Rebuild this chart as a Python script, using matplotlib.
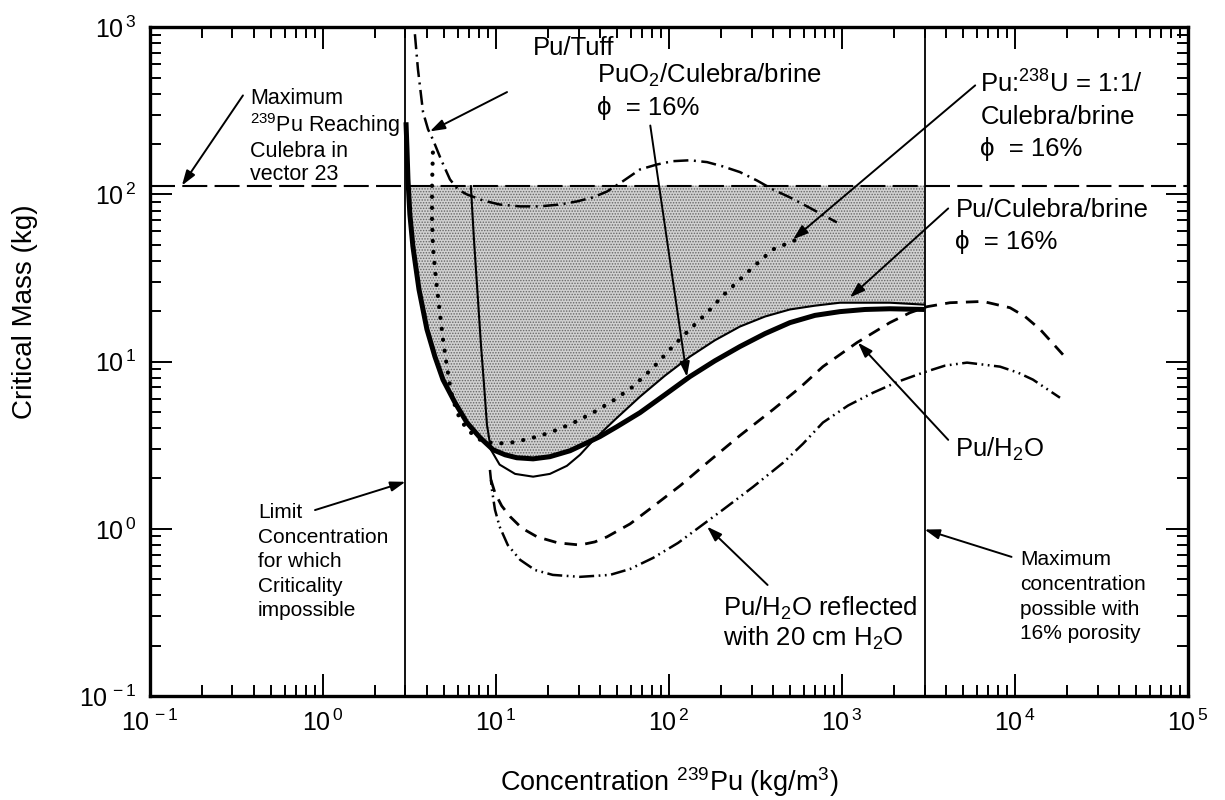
import numpy as np
import matplotlib
matplotlib.use("Agg")
from matplotlib import pyplot as plt
from matplotlib.ticker import FixedLocator, FuncFormatter, NullFormatter

plt.rcParams['font.family'] = ['Liberation Sans', 'DejaVu Sans']
plt.rcParams['mathtext.fontset'] = 'custom'
plt.rcParams['mathtext.rm'] = 'Liberation Sans'
plt.rcParams['mathtext.it'] = 'Liberation Sans:italic'
plt.rcParams['mathtext.bf'] = 'Liberation Sans:bold'
plt.rcParams['mathtext.default'] = 'regular'
plt.rcParams['hatch.linewidth'] = 0.7

# concentration limits (kg/m3) and max Pu reaching Culebra (kg)
limitConc = 3.0
maxConc = 3000.0
maxPuMass = 113.0

# decades shown on the axes
xDecades = [-1, 0, 1, 2, 3, 4, 5]
yDecades = [-1, 0, 1, 2, 3]

# Pu/Culebra/brine  (thick solid)
brineX = [3.02, 3.06, 3.10, 3.18, 3.31, 3.59, 3.99, 4.44, 4.94, 5.80, 6.79, 8.09, 9.62,
          11.3, 13.2, 16.4, 20.5, 26.8, 33.6, 39.9, 50.0, 68.0, 94.8, 132, 184, 257,
          359, 500, 698, 973, 1358, 1892, 3000]
brineY = [270, 186, 123, 75.9, 48.9, 27.0, 15.6, 10.7, 7.80, 5.68, 4.32, 3.51, 2.97,
          2.77, 2.66, 2.62, 2.70, 2.93, 3.27, 3.56, 4.08, 4.95, 6.34, 8.13, 10.1, 12.3,
          14.7, 17.1, 18.9, 19.9, 20.5, 20.7, 20.5]

# PuO2/Culebra/brine  (thin solid)
puo2X = [7.16, 7.46, 7.87, 8.19, 8.53, 8.87, 9.35, 10.5, 12.9, 16.4, 20.5, 25.7, 30.6,
         36.4, 48.8, 68, 94.8, 132, 184, 257, 359, 500, 698, 973, 1892, 3000]
puo2Y = [112, 53.8, 23.5, 12.6, 7.28, 4.20, 2.97, 2.42, 2.13, 2.05, 2.13, 2.38, 2.77,
         3.37, 4.50, 6.17, 8.24, 10.7, 13.4, 16.2, 18.6, 20.5, 21.6, 22.5, 22.5, 21.9]

# Pu:238U = 1:1 / Culebra/brine  (dotted)
puuX = [4.32, 4.27, 4.27, 4.32, 4.50, 4.74, 4.94, 5.21, 5.50, 5.95, 6.79, 8.09, 9.87,
        12.1, 15.7, 20.5, 27.5, 36.4, 47.4, 61.9, 81, 105, 132, 166, 205, 257, 323, 399, 550]
puuY = [178, 112, 70.8, 48.9, 31.0, 19.6, 13.6, 9.33, 6.61, 4.95, 3.92, 3.41, 3.23,
        3.27, 3.46, 3.76, 4.26, 4.95, 5.83, 7.08, 9.20, 12.3, 15.6, 19.6, 24.8, 31.0,
        38.6, 46.9, 53.8]

# Pu/Tuff  (dash-dot)
tuffX = [3.40, 3.54, 3.79, 4.05, 4.32, 4.81, 5.42, 6.03, 6.79, 8.41, 10.5, 13.8, 17.9,
         23.4, 29.4, 36.4, 43.8, 54.2, 68, 85.3, 105, 132, 166, 205, 257, 323, 399, 500,
         628, 766, 935]
tuffY = [908, 561, 310, 245, 213, 162, 123, 107, 100, 92, 87, 84.8, 84.8, 87, 90.8, 96,
         104, 120, 141, 151, 158, 160, 156, 147, 136, 121, 107, 96, 84.8, 75.9, 68]

# Pu/H2O  (dashed)
waterX = [9.35, 9.87, 10.8, 12.1, 14.1, 17.3, 22.8, 30.6, 37.3, 43.8, 59.6, 81, 116, 166,
          257, 399, 571, 776, 1222, 1890, 2470, 3100, 4210, 6530, 9360, 11430, 13960, 18940]
waterY = [1.96, 1.64, 1.37, 1.18, 1.01, 0.895, 0.824, 0.80, 0.835, 0.895, 1.07, 1.36,
          1.81, 2.48, 3.61, 5.16, 6.98, 9.33, 13.0, 17.1, 19.6, 21.3, 22.5, 22.9, 21.0,
          18.6, 15.6, 11.0]

# Pu/H2O reflected with 20 cm H2O  (dash-dot-dot)
reflX = [9.23, 9.48, 9.87, 10.5, 11.7, 13.8, 16.8, 21.3, 30.6, 45.6, 59.6, 81, 113, 157,
         205, 306, 456, 596, 776, 1084, 1510, 2110, 2940, 3940, 5280, 8190, 10400, 12700,
         18200]
reflY = [2.25, 1.71, 1.30, 1.03, 0.80, 0.652, 0.567, 0.53, 0.516, 0.53, 0.575, 0.67,
         0.824, 1.06, 1.30, 1.78, 2.48, 3.23, 4.32, 5.46, 6.51, 7.59, 8.59, 9.46, 9.86,
         9.33, 8.59, 7.80, 6.08]


def decade_label(v, pos):
    return r'10$^{\,%d}$' % int(round(np.log10(v)))


def minor_ticks(decades):
    return [m * 10.0 ** d for d in decades[:-1] for m in range(2, 10)]


fig = plt.figure(figsize=(12.25, 8), dpi=100)
ax = fig.add_axes([0.1224, 0.13, 0.8474, 0.836])
ax.set_xscale('log')
ax.set_yscale('log')
ax.set_xlim(1e-1, 1e5)
ax.set_ylim(1e-1, 1e3)

# shaded region: above the lower solid curves, below max mass
bX = np.array(brineX[:19] + puo2X[13:])
bY = np.array(brineY[:19] + puo2Y[13:])
ax.fill_between(bX, bY, maxPuMass, where=bY <= maxPuMass, interpolate=True,
                facecolor='0.82', edgecolor='0.4', hatch='......', linewidth=0, zorder=1)

ax.axhline(maxPuMass, color='k', lw=1.5, dashes=(12, 3.5), zorder=2)
ax.axvline(limitConc, color='k', lw=1.3, zorder=2)
ax.axvline(maxConc, color='k', lw=1.3, zorder=2)

ax.plot(brineX, brineY, color='k', lw=3.6, solid_capstyle='butt', zorder=4)
ax.plot(puo2X, puo2Y, color='k', lw=1.5, zorder=4)
ax.plot(puuX, puuY, color='k', lw=3.0, dashes=(0.05, 2.6), dash_capstyle='round', zorder=4)
ax.plot(tuffX, tuffY, color='k', lw=1.8, dashes=(6, 2.2, 0.8, 2.2), zorder=4)
ax.plot(waterX, waterY, color='k', lw=2.0, dashes=(4.5, 3), zorder=4)
ax.plot(reflX, reflY, color='k', lw=1.8, dashes=(6, 1.8, 0.7, 1.8, 0.7, 1.8), zorder=4)

# axes styling
for s in ax.spines.values():
    s.set_linewidth(2.4)
ax.tick_params(which='both', direction='in', top=True, right=True, width=1.4)
ax.tick_params(which='major', length=16, labelsize=18, pad=10)
ax.tick_params(which='minor', length=8)
ax.xaxis.set_major_locator(FixedLocator([10.0 ** d for d in xDecades]))
ax.yaxis.set_major_locator(FixedLocator([10.0 ** d for d in yDecades]))
ax.xaxis.set_minor_locator(FixedLocator(minor_ticks(xDecades)))
ax.yaxis.set_minor_locator(FixedLocator(minor_ticks(yDecades)))
ax.xaxis.set_major_formatter(FuncFormatter(decade_label))
ax.yaxis.set_major_formatter(FuncFormatter(decade_label))
ax.xaxis.set_minor_formatter(NullFormatter())
ax.yaxis.set_minor_formatter(NullFormatter())

ax.set_xlabel(r'Concentration $^{239}$Pu (kg/m$^{3}$)', fontsize=19.5)
ax.set_ylabel('Critical Mass (kg)', fontsize=20)
ax.xaxis.set_label_coords(0.5, -0.104)
ax.yaxis.set_label_coords(-0.108, 0.574)

arrow = dict(arrowstyle='-|>,head_length=0.9,head_width=0.3', color='k', lw=1.4,
             shrinkA=0, shrinkB=0)
big = 18.5
small = 15

# labels and arrows
ax.text(0.0963, 0.909, 'Maximum\n$^{239}$Pu Reaching\nCulebra in\nvector 23',
        transform=ax.transAxes, fontsize=15.5, va='top', ha='left', linespacing=1.12)
ax.annotate('', xy=(0.153, maxPuMass), xytext=(0.0896, 0.898),
            textcoords='axes fraction', arrowprops=arrow)

ax.text(0.369, 0.969, 'Pu/Tuff', transform=ax.transAxes, fontsize=big, va='center', ha='left')
ax.annotate('', xy=(4.15, 238), xytext=(0.344, 0.903),
            textcoords='axes fraction', arrowprops=arrow)

ax.text(0.431, 0.949, 'PuO$_2$/Culebra/brine\n\u03d5  = 16%', transform=ax.transAxes,
        fontsize=big, va='top', ha='left', linespacing=1.37)
ax.annotate('', xy=(127, 8.1), xytext=(0.482, 0.853),
            textcoords='axes fraction', arrowprops=arrow)

ax.text(0.800, 0.935, 'Pu:$^{238}$U = 1:1/\nCulebra/brine\n\u03d5  = 16%',
        transform=ax.transAxes, fontsize=big, va='top', ha='left', linespacing=1.4)
ax.annotate('', xy=(521, 53.8), xytext=(0.795, 0.913),
            textcoords='axes fraction', arrowprops=arrow)

ax.text(0.776, 0.745, 'Pu/Culebra/brine\n\u03d5  = 16%', transform=ax.transAxes,
        fontsize=big, va='top', ha='left', linespacing=1.42)
ax.annotate('', xy=(1111, 24.2), xytext=(0.769, 0.729),
            textcoords='axes fraction', arrowprops=arrow)

ax.text(0.776, 0.368, 'Pu/H$_2$O', transform=ax.transAxes, fontsize=big,
        va='center', ha='left')
ax.annotate('', xy=(1236, 13.0), xytext=(0.769, 0.383),
            textcoords='axes fraction', arrowprops=arrow)

ax.text(0.552, 0.152, 'Pu/H$_2$O reflected\nwith 20 cm H$_2$O', transform=ax.transAxes,
        fontsize=big, va='top', ha='left', linespacing=1.15)
ax.annotate('', xy=(166, 1.03), xytext=(0.595, 0.166),
            textcoords='axes fraction', arrowprops=arrow)

ax.text(0.104, 0.288, 'Limit\nConcentration\nfor which\nCriticality\nimpossible',
        transform=ax.transAxes, fontsize=small, va='top', ha='left', linespacing=1.36)
ax.annotate('', xy=(limitConc, 1.91), xytext=(0.159, 0.278),
            textcoords='axes fraction', arrowprops=arrow)

ax.text(0.838, 0.218, 'Maximum\nconcentration\npossible with\n16% porosity',
        transform=ax.transAxes, fontsize=small, va='top', ha='left', linespacing=1.38)
ax.annotate('', xy=(maxConc, 0.99), xytext=(0.830, 0.208),
            textcoords='axes fraction', arrowprops=arrow)

fig.savefig('out.png', dpi=100)
